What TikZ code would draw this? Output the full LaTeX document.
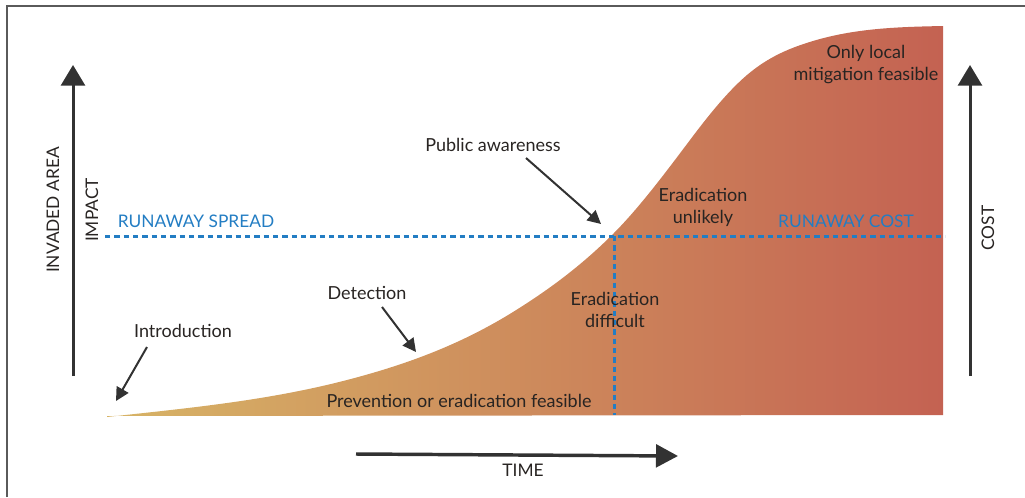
\documentclass[tikz,border=0pt]{standalone}
\usepackage{fontspec}
\setmainfont{Lato}
\usetikzlibrary{arrows.meta}
\definecolor{framegray}{RGB}{90,90,90}
\definecolor{ink}{RGB}{40,36,34}
\definecolor{axisink}{RGB}{50,50,50}
\definecolor{runaway}{RGB}{35,125,195}
\definecolor{early}{RGB}{215,180,102}
\definecolor{midphase}{RGB}{209,155,95}
\definecolor{late}{RGB}{196,98,82}
\begin{document}
\begin{tikzpicture}[x=0.75pt,y=-0.75pt,
  lbl/.style={font=\fontsize{13.5}{16.5}\selectfont, text=ink, align=center, inner sep=0pt},
  bluelbl/.style={font=\fontsize{13}{16}\selectfont, text=runaway, inner sep=0pt},
  axislbl/.style={font=\fontsize{13}{16}\selectfont, text=ink, inner sep=0pt, rotate=90},
  axisarrow/.style={draw=axisink, line width=2.25pt, -{Triangle[length=15.5pt,width=18pt]}},
  pointer/.style={draw=axisink, line width=1.5pt, -{Triangle[length=10pt,width=10pt]}},
  runawayline/.style={draw=runaway, line width=2.25pt, dash pattern=on 4pt off 3pt}
]
\useasboundingbox (0,0) rectangle (1025,497);

% frame
\draw[framegray, line width=1.6pt] (7,497) -- (7,6) -- (1025,6);

% invasion curve (piecewise cubic with matched tangents), shaded gold to red
\shade[left color=early, middle color=midphase, right color=late]
  (107,417)
  .. controls (187,408.2) and (267,400.8) .. (347,380)
  .. controls (402.3,365.6) and (457.7,346.3) .. (513,312)
  .. controls (546.3,291.3) and (579.7,267.3) .. (613,234)
  .. controls (638.7,208.3) and (664.3,174.2) .. (690,140)
  .. controls (709,114.7) and (728,91.2) .. (747,75)
  .. controls (769,56.3) and (791,47.6) .. (813,41)
  .. controls (856.3,28) and (899.7,26.9) .. (943,26)
  -- (943,415) -- (107,416) -- cycle;

% runaway thresholds
\coordinate (spreadL) at (105,236);
\coordinate (costR) at (945,236);
\coordinate (cross) at (614,236);
\coordinate (crossB) at (614,415);
\draw[runawayline] (spreadL) -- (costR);
\draw[runawayline] (cross) -- (crossB);

% axes
\coordinate (yL0) at (73,376);
\coordinate (yL1) at (73,65);
\coordinate (yR0) at (970,376);
\coordinate (yR1) at (970,65);
\coordinate (t0) at (356,454);
\coordinate (t1) at (678,456);
\draw[axisarrow] (yL0) -- (yL1);
\draw[axisarrow] (yR0) -- (yR1);
\draw[axisarrow, line width=2.6pt, -{Triangle[length=16.5pt,width=17pt]}] (t0) -- (t1);

\node[axislbl] (invaded) at (53,210) {INVADED AREA};
\node[axislbl] (impact) at (92,210) {IMPACT};
\node[axislbl] (cost) at (988,228) {COST};
\node[lbl, font=\fontsize{13}{16}\selectfont] (time) at (523,470) {TIME};

\node[bluelbl] (spread) at (196,221) {RUNAWAY SPREAD};
\node[bluelbl] (rcost) at (846,221) {RUNAWAY COST};

% phase labels
\node[lbl] (intro) at (183,331) {Introduction};
\node[lbl] (detect) at (367,293) {Detection};
\node[lbl] (aware) at (493,145) {Public awareness};
\node[lbl] (prev) at (459,401) {Prevention or eradication feasible};
\node[lbl] (diff) at (615,310) {Eradication\\difficult};
\node[lbl] (unlik) at (703,207) {Eradication\\unlikely};
\node[lbl] (local) at (866,65) {Only local\\mitigation feasible};

% pointers
\coordinate (introTail) at (147,347);
\coordinate (introTip) at (116,401);
\coordinate (detectTail) at (382,307);
\coordinate (detectTip) at (416,352);
\coordinate (awareTail) at (526,158);
\coordinate (awareTip) at (601,224);
\draw[pointer] (introTail) -- (introTip);
\draw[pointer] (detectTail) -- (detectTip);
\draw[pointer] (awareTail) -- (awareTip);
\end{tikzpicture}
\end{document}
